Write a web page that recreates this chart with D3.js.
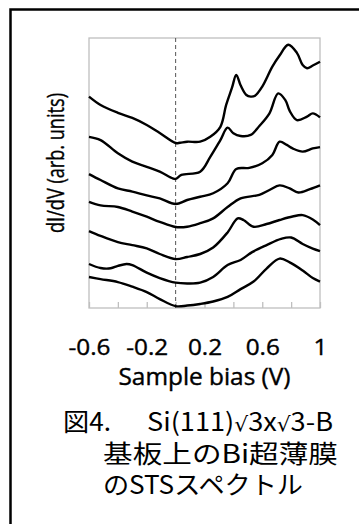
<!DOCTYPE html>
<html lang="ja">
<head>
<meta charset="UTF-8">
<title>STS spectra</title>
<style>
  * { margin: 0; padding: 0; }
  body { background: #fff; width: 359px; height: 524px; overflow: hidden; }
  svg { display: block; }
  text { fill: #000; }
</style>
</head>
<body>
<svg id="chart"></svg>
<script src="https://cdn.jsdelivr.net/npm/d3@7/dist/d3.min.js"></script>
<script>
// ticks on the bias axis, labels only every 0.4 V
const tickValues = [-0.6, -0.4, -0.2, 0, 0.2, 0.4, 0.6, 0.8, 1];
const tickLabels = ["-0.6", "", "-0.2", "", "0.2", "", "0.6", "", "1"];

// spectra, top to bottom: [sample bias (V), dI/dV (arb. units, offset)]
const spectrum1 = [[-0.60,78.3],[-0.52,75.2],[-0.40,72.3],[-0.30,70.4],[-0.20,67.8],[-0.11,64.8],[0.00,61.1],[0.03,61.2],[0.08,61.6],[0.17,61.6],[0.24,63.4],[0.31,67.1],[0.35,75.2],[0.39,81.5],[0.42,86.3],[0.45,82.5],[0.49,78.9],[0.52,78.3],[0.55,78.6],[0.60,82.0],[0.67,89.4],[0.72,93.5],[0.78,97.5],[0.84,94.5],[0.88,90.0],[0.91,88.8],[0.95,89.8],[1.00,91.2]];
const spectrum2 = [[-0.60,63.4],[-0.52,62.2],[-0.40,57.3],[-0.30,54.2],[-0.20,52.3],[-0.11,50.5],[-0.02,48.0],[0.00,47.8],[0.04,49.3],[0.17,50.5],[0.24,56.0],[0.31,62.2],[0.36,66.8],[0.40,64.7],[0.45,63.7],[0.52,64.1],[0.58,67.4],[0.65,72.1],[0.71,79.5],[0.76,77.0],[0.79,73.0],[0.84,69.6],[0.91,70.9],[0.95,72.1],[1.00,70.6]];
const spectrum3 = [[-0.60,49.6],[-0.52,47.4],[-0.40,44.3],[-0.30,43.1],[-0.20,41.7],[-0.11,40.6],[0.00,38.5],[0.08,40.0],[0.17,41.2],[0.26,42.5],[0.36,46.2],[0.42,51.5],[0.51,51.9],[0.60,53.6],[0.67,56.7],[0.72,61.6],[0.77,60.4],[0.81,59.1],[0.88,57.9],[0.95,59.1],[1.00,59.6]];
const spectrum4 = [[-0.60,39.3],[-0.52,38.0],[-0.40,37.4],[-0.30,35.7],[-0.20,33.8],[-0.11,31.9],[0.00,30.0],[0.08,30.1],[0.17,31.4],[0.26,33.2],[0.36,37.4],[0.45,40.6],[0.58,41.9],[0.65,43.7],[0.72,45.4],[0.79,44.3],[0.85,42.8],[0.93,44.0],[1.00,45.4]];
const spectrum5 = [[-0.60,28.5],[-0.52,26.7],[-0.40,24.4],[-0.30,23.3],[-0.20,22.1],[-0.11,20.0],[0.00,18.1],[0.08,18.9],[0.17,20.0],[0.26,22.4],[0.36,28.0],[0.43,33.2],[0.47,32.6],[0.54,30.1],[0.63,31.1],[0.72,32.6],[0.81,33.9],[0.88,34.4],[0.95,32.8],[1.00,30.7]];
const spectrum6 = [[-0.60,16.3],[-0.52,14.8],[-0.45,14.7],[-0.40,15.6],[-0.34,16.3],[-0.30,15.9],[-0.20,13.1],[-0.11,11.1],[0.00,9.4],[0.08,9.1],[0.17,9.4],[0.26,11.5],[0.36,15.9],[0.45,17.8],[0.53,20.7],[0.63,23.3],[0.73,25.6],[0.80,26.1],[0.88,23.7],[0.95,22.0],[1.00,21.1]];
const spectrum7 = [[-0.60,11.5],[-0.52,10.7],[-0.40,9.6],[-0.30,7.9],[-0.20,5.9],[-0.11,3.3],[0.00,0.7],[0.08,0.9],[0.17,1.5],[0.26,2.4],[0.36,4.1],[0.45,7.0],[0.54,9.8],[0.63,14.6],[0.72,18.3],[0.79,16.9],[0.88,13.9],[0.95,11.1],[1.00,9.8]];
const spectra = [spectrum1, spectrum2, spectrum3, spectrum4, spectrum5, spectrum6, spectrum7];

const xTitle = "Sample bias (V)";
const yTitle = "dI/dV (arb. units)";
const figLabel = "図4.";
const substrate = ["Si(111)", "√", "3x", "√", "3-B"];
const captionLines = ["基板上のBi超薄膜", "のSTSスペクトル"];

const W = 359, H = 524;
const plot = { left: 89, right: 320, top: 38, bottom: 308 };
const sans = '"Open Sans", sans-serif';

const svg = d3.select('#chart').attr('width', W).attr('height', H);

// outer black frame (runs off the right and bottom edges)
svg.append('rect')
  .attr('x', 10.5).attr('y', 9.5)
  .attr('width', 400).attr('height', 600)
  .attr('fill', 'none').attr('stroke', '#000').attr('stroke-width', 2.5);

const x = d3.scaleLinear().domain([-0.6, 1]).range([plot.left, plot.right]);
const y = d3.scaleLinear().domain([0, 100]).range([plot.bottom, plot.top]);

// plot area border
svg.append('rect')
  .attr('x', plot.left).attr('y', plot.top)
  .attr('width', plot.right - plot.left).attr('height', plot.bottom - plot.top)
  .attr('fill', 'none').attr('stroke', '#bfbfbf').attr('stroke-width', 1.3);

// x axis: inner ticks, labels every other tick
const xAxis = d3.axisBottom(x)
  .tickValues(tickValues)
  .tickFormat((d, i) => tickLabels[i])
  .tickSize(-6)
  .tickSizeOuter(0);

const gx = svg.append('g')
  .attr('transform', `translate(0,${plot.bottom})`)
  .call(xAxis);
gx.select('.domain').remove();
gx.selectAll('line').attr('stroke', '#bfbfbf').attr('stroke-width', 1.3);
gx.selectAll('text')
  .attr('y', 47).attr('dy', null)
  .attr('transform', 'scale(1.08,1)')
  .attr('font-family', sans)
  .attr('font-size', 22.5)
  .attr('fill', '#000')
  .attr('stroke', '#000').attr('stroke-width', 0.4);

// dashed line at zero bias
svg.append('line')
  .attr('x1', x(0)).attr('x2', x(0))
  .attr('y1', plot.top).attr('y2', plot.bottom)
  .attr('stroke', '#555').attr('stroke-width', 1)
  .attr('stroke-dasharray', '4,3');

const line = d3.line()
  .x(d => x(d[0]))
  .y(d => y(d[1]))
  .curve(d3.curveCatmullRom.alpha(0.5));

svg.append('g')
  .selectAll('path')
  .data(spectra)
  .join('path')
  .attr('d', line)
  .attr('fill', 'none')
  .attr('stroke', '#000')
  .attr('stroke-width', 2.4)
  .attr('stroke-linejoin', 'round');

// axis titles
svg.append('text')
  .attr('x', (plot.left + plot.right) / 2).attr('y', 385)
  .attr('text-anchor', 'middle')
  .attr('font-family', sans)
  .attr('font-size', 23)
  .attr('stroke', '#000').attr('stroke-width', 0.4)
  .attr('textLength', 172).attr('lengthAdjust', 'spacingAndGlyphs')
  .text(xTitle);

svg.append('text')
  .attr('transform', 'translate(64,163) rotate(-90)')
  .attr('text-anchor', 'middle')
  .attr('font-family', sans)
  .attr('font-size', 23)
  .attr('stroke', '#000').attr('stroke-width', 0.4)
  .attr('textLength', 140).attr('lengthAdjust', 'spacingAndGlyphs')
  .text(yTitle);

// caption
const cap = svg.append('g')
  .attr('font-family', '"Noto Sans CJK JP", "Noto Sans", sans-serif')
  .attr('font-size', 25);

cap.append('text').attr('x', 63).attr('y', 431)
  .attr('textLength', 48).attr('lengthAdjust', 'spacingAndGlyphs')
  .text(figLabel);

cap.append('text').attr('x', 147).attr('y', 431)
  .attr('textLength', 186).attr('lengthAdjust', 'spacingAndGlyphs')
  .selectAll('tspan')
  .data(substrate)
  .join('tspan')
  .attr('font-family', d => d === '√' ? '"DejaVu Sans", sans-serif' : null)
  .attr('font-size', d => d === '√' ? 20 : null)
  .text(d => d);

cap.append('text').attr('x', 103).attr('y', 463)
  .attr('textLength', 235).attr('lengthAdjust', 'spacingAndGlyphs')
  .text(captionLines[0]);
cap.append('text').attr('x', 103).attr('y', 494)
  .attr('textLength', 200).attr('lengthAdjust', 'spacingAndGlyphs')
  .text(captionLines[1]);
</script>
</body>
</html>
